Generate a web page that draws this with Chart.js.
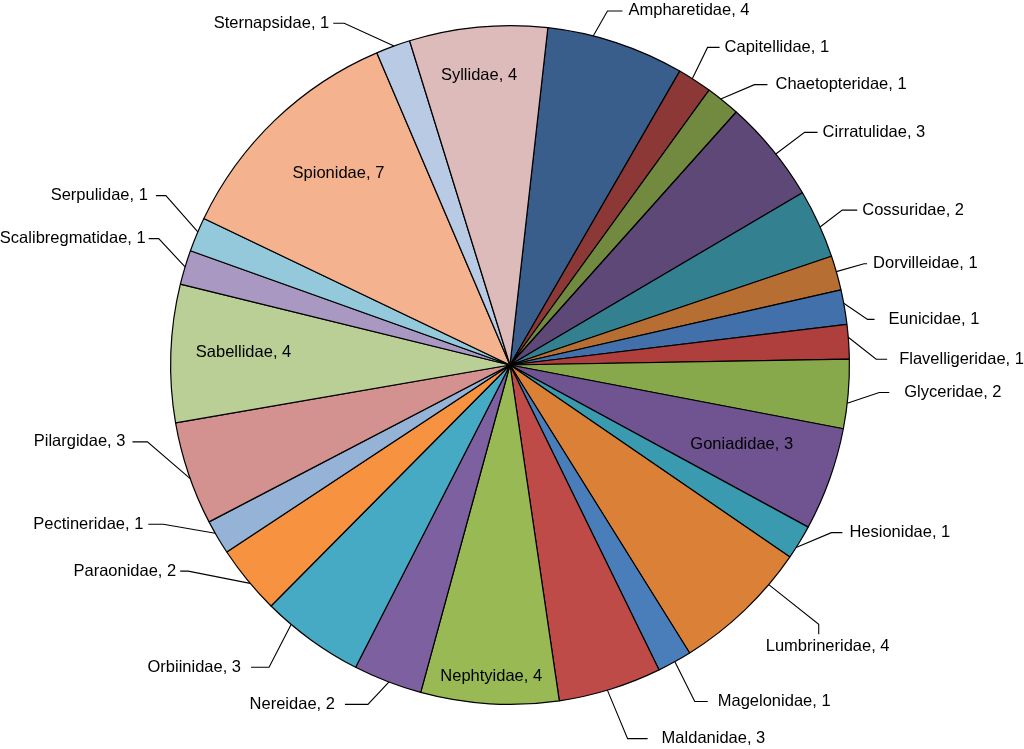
<!DOCTYPE html>
<html>
<head>
<meta charset="utf-8">
<script src="https://cdn.jsdelivr.net/npm/chart.js@4.4.1/dist/chart.umd.min.js"></script>
<style>
  html, body { margin: 0; padding: 0; background: #fff; }
  #wrap { width: 1024px; height: 749px; position: relative; }
</style>
</head>
<body>
<div id="wrap"><canvas id="c"></canvas></div>
<script>
// ---- data ----
const families = [
  "Ampharetidae", "Capitellidae", "Chaetopteridae", "Cirratulidae", "Cossuridae",
  "Dorvilleidae", "Eunicidae", "Flavelligeridae", "Glyceridae", "Goniadidae",
  "Hesionidae", "Lumbrineridae", "Magelonidae", "Maldanidae", "Nephtyidae",
  "Nereidae", "Orbiinidae", "Paraonidae", "Pectineridae", "Pilargidae",
  "Sabellidae", "Scalibregmatidae", "Serpulidae", "Spionidae", "Sternapsidae",
  "Syllidae"
];
const counts = [4, 1, 1, 3, 2, 1, 1, 1, 2, 3, 1, 4, 1, 3, 4, 2, 3, 2, 1, 3, 4, 1, 1, 7, 1, 4];

// ---- styles ----
const sliceColors = [
  "#3A5E8C", "#8C3836", "#728A40", "#5D4877", "#338091",
  "#B76E32", "#4170AA", "#AF3F3C", "#87A84B", "#6F5491",
  "#399AB0", "#DA8137", "#4A7EBB", "#BE4B48", "#98B954",
  "#7D60A0", "#46AAC5", "#F69240", "#95B3D7", "#D39190",
  "#B9CF95", "#A898C2", "#93C9DB", "#F4B38E", "#B9CAE4",
  "#DEBBBB"
];

// label layout: inside labels -> t (fraction along slice), rf (radius factor)
// outside labels -> t (leader start along slice), dA (elbow angle offset, deg),
//                   eR (elbow radius factor), seg (horizontal segment px, signed), gap (px)
const labelLayout = {
  Ampharetidae:     { t: 0.33, dA: 1.2,  eR: 1.082, seg: 15,  gap: 6 },
  Capitellidae:     { t: 0.42, dA: -0.6, eR: 1.102, seg: 12,  gap: 5 },
  Chaetopteridae:   { t: 0.42, dA: 2.7,  eR: 1.096, seg: 13,  gap: 8 },
  Cirratulidae:     { t: 0.55, dA: 0.15, eR: 1.106, seg: 13,  gap: 5 },
  Cossuridae:       { t: 0.55, dA: -1.0, eR: 1.080, seg: 15,  gap: 5 },
  Dorvilleidae:     { t: 0.46, dA: 0.0,  eR: 1.085, seg: 3,   gap: 6 },
  Eunicidae:        { t: 0.39, dA: 3.2,  eR: 1.062, seg: 7,   gap: 14 },
  Flavelligeridae:  { t: 0.37, dA: 3.8,  eR: 1.079, seg: 11,  gap: 12 },
  Glyceridae:       { t: 0.63, dA: -2.2, eR: 1.091, seg: 10,  gap: 15 },
  Goniadidae:       { inside: true, t: 0.46, rf: 0.722 },
  Hesionidae:       { t: 0.68, dA: -5.0, eR: 1.068, seg: 11,  gap: 7 },
  Lumbrineridae:    { t: 0.25, dA: -0.3, eR: 1.188, drop: 10, tdx: -53, tdy: 22 },
  Magelonidae:      { t: 0.49, dA: 0.3,  eR: 1.131, seg: 13,  gap: 10 },
  Maldanidae:       { t: 0.53, dA: -0.8, eR: 1.154, seg: 20,  gap: 14 },
  Nephtyidae:       { inside: true, t: 0.50, rf: 0.919 },
  Nereidae:         { t: 0.48, dA: 1.8,  eR: 1.084, seg: -23, gap: 10 },
  Orbiinidae:       { t: 0.74, dA: -1.6, eR: 1.139, seg: -18, gap: 10 },
  Paraonidae:       { t: 0.44, dA: 7.4,  eR: 1.126, seg: -8,  gap: 4 },
  Pectineridae:     { t: 0.63, dA: 5.05, eR: 1.124, seg: -15, gap: 5 },
  Pilargidae:       { t: 0.45, dA: 7.6,  eR: 1.092, seg: -15, gap: 7 },
  Sabellidae:       { inside: true, t: 0.53, rf: 0.786 },
  Scalibregmatidae: { t: 0.51, dA: 3.0,  eR: 1.100, seg: -10, gap: 3 },
  Serpulidae:       { t: 0.58, dA: 3.1,  eR: 1.130, seg: -10, gap: 8 },
  Spionidae:        { inside: true, t: 0.547, rf: 0.758 },
  Sternapsidae:     { t: 0.53, dA: -5.9, eR: 1.119, seg: -11, gap: 4 },
  Syllidae:         { inside: true, t: 0.47, rf: 0.858 }
};

const FONT = '16.5px "Liberation Sans", Arial, Helvetica, sans-serif';

function polar(arc, compassDeg, rf) {
  const a = (compassDeg - 90) * Math.PI / 180;
  return { x: arc.x + arc.outerRadius * rf * Math.cos(a),
           y: arc.y + arc.outerRadius * rf * Math.sin(a) };
}

const pieLabels = {
  id: 'pieLabels',
  afterDatasetsDraw(chart) {
    const ctx = chart.ctx;
    const meta = chart.getDatasetMeta(0);
    const data = chart.data.datasets[0].data;
    ctx.save();
    ctx.font = FONT;
    ctx.fillStyle = '#000';
    ctx.strokeStyle = '#000';
    ctx.lineWidth = 1.1;
    ctx.textBaseline = 'middle';
    meta.data.forEach((arc, i) => {
      const name = chart.data.labels[i];
      const text = name + ', ' + data[i];
      const L = labelLayout[name];
      const s = arc.startAngle * 180 / Math.PI + 90;
      const e = arc.endAngle * 180 / Math.PI + 90;
      const ang = s + L.t * (e - s);
      if (L.inside) {
        const p = polar(arc, ang, L.rf);
        ctx.textAlign = 'center';
        ctx.fillText(text, p.x, p.y);
        return;
      }
      const p0 = polar(arc, ang, 1.0);
      const p1 = polar(arc, ang + L.dA, L.eR);
      ctx.beginPath();
      ctx.moveTo(p0.x, p0.y);
      ctx.lineTo(p1.x, p1.y);
      if (L.drop !== undefined) {
        ctx.lineTo(p1.x, p1.y + L.drop);
        ctx.stroke();
        ctx.textAlign = 'left';
        ctx.fillText(text, p1.x + L.tdx, p1.y + L.tdy);
        return;
      }
      const hx = p1.x + L.seg;
      ctx.lineTo(hx, p1.y);
      ctx.stroke();
      if (L.seg >= 0) {
        ctx.textAlign = 'left';
        ctx.fillText(text, hx + L.gap, p1.y);
      } else {
        ctx.textAlign = 'right';
        ctx.fillText(text, hx - L.gap, p1.y);
      }
    });
    ctx.restore();
  }
};

new Chart(document.getElementById('c'), {
  type: 'pie',
  data: {
    labels: families,
    datasets: [{
      data: counts,
      backgroundColor: sliceColors,
      borderColor: '#000',
      borderWidth: 1.2
    }]
  },
  options: {
    responsive: true,
    maintainAspectRatio: false,
    animation: false,
    rotation: 6.4,
    layout: { padding: { top: 25, bottom: 44, left: 170, right: 174 } },
    plugins: {
      legend: { display: false },
      tooltip: { enabled: false }
    }
  },
  plugins: [pieLabels]
});
</script>
</body>
</html>
